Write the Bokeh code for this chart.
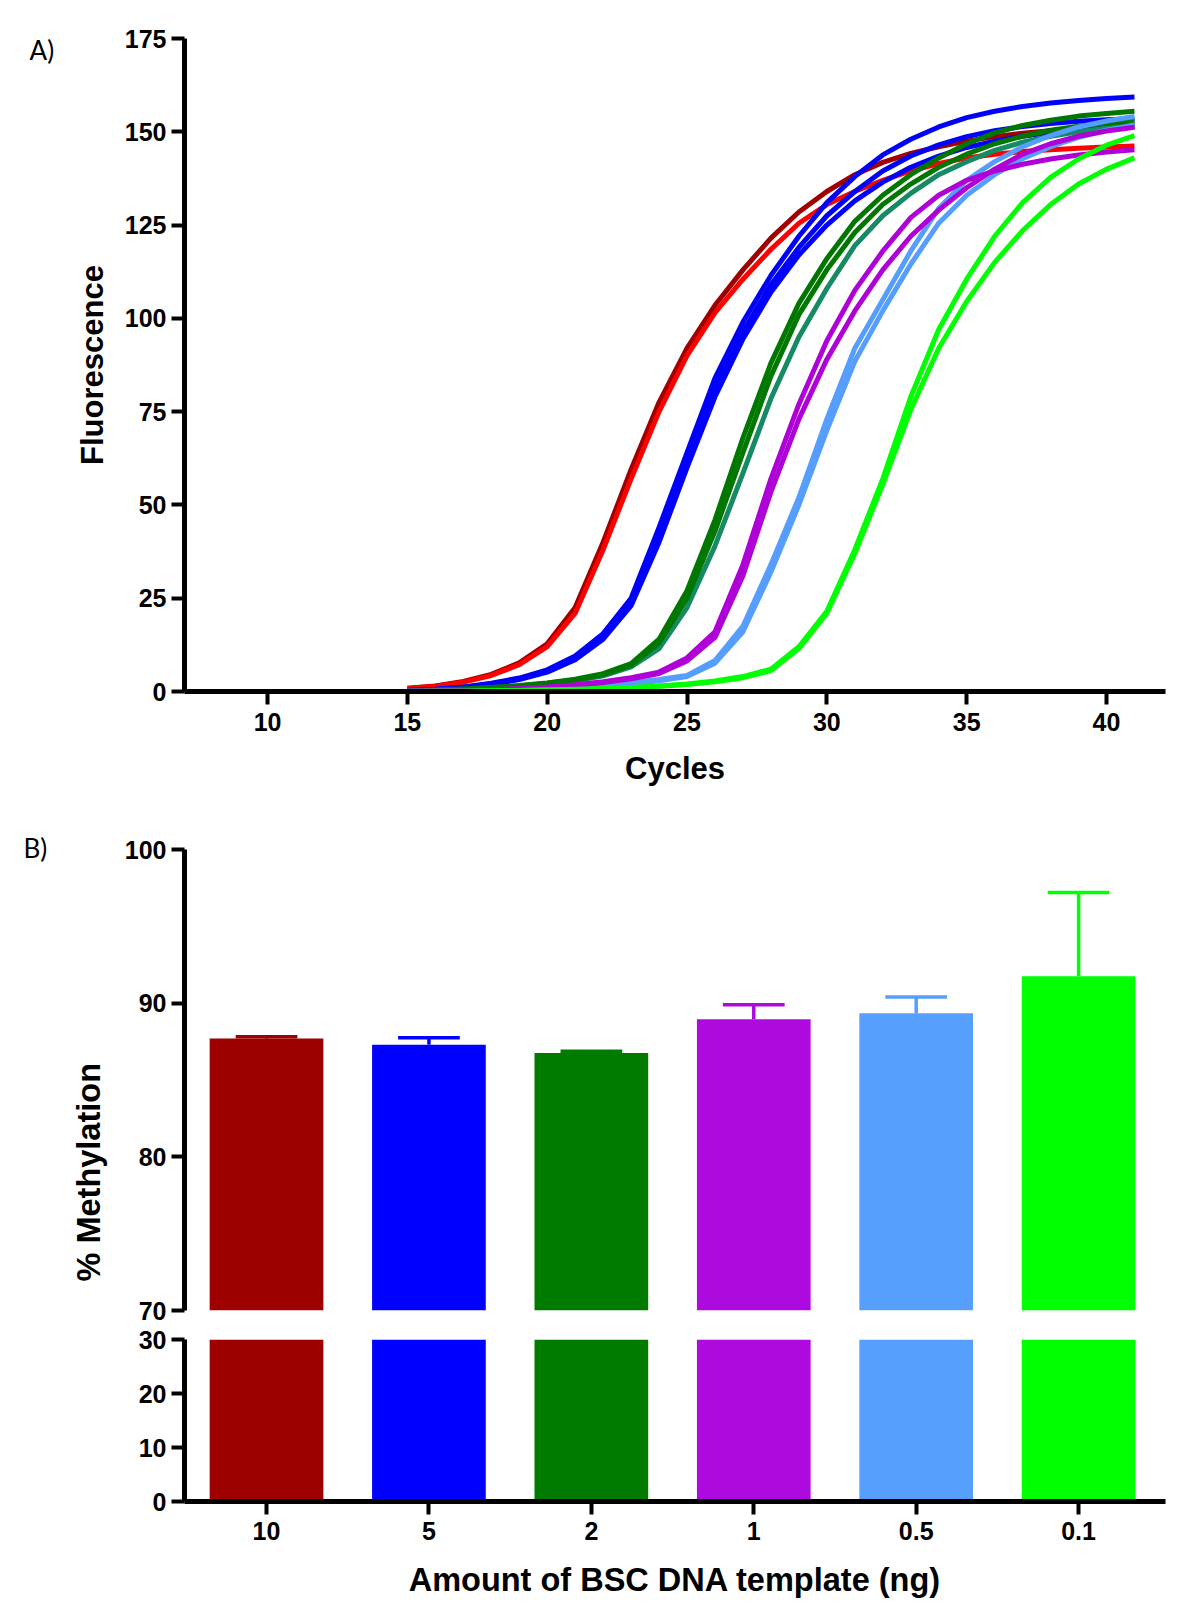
import math
from bokeh.plotting import figure
from bokeh.layouts import column
from bokeh.models import Range1d, FixedTicker, Label, Title
from bokeh.embed import file_html
from bokeh.resources import INLINE

# ---------------- Panel A data: qPCR amplification curves ----------------
cycles = list(range(15, 42))
cycle_ticks = [10, 15, 20, 25, 30, 35, 40]
fluor_ticks = [0, 25, 50, 75, 100, 125, 150, 175]

red_dark = [0.9, 1.5, 2.7, 4.6, 7.7, 12.8, 22.5, 40.0, 59.5, 77.5, 92.0, 103.5, 113.0, 121.5,
            128.5, 134.0, 138.5, 141.8, 144.2, 146.0, 147.5, 148.7, 149.6, 150.3, 150.9, 151.4, 151.8]
red_bright = [0.8, 1.4, 2.5, 4.3, 7.2, 12.0, 21.0, 38.0, 57.0, 75.0, 90.0, 101.5, 110.5, 118.5,
              125.5, 130.5, 134.0, 137.0, 139.5, 141.5, 143.0, 144.0, 144.7, 145.2, 145.6, 145.9, 146.2]
blue_1 = [0.3, 0.6, 1.2, 2.2, 3.6, 5.8, 9.5, 15.5, 25.0, 44.0, 64.0, 84.0, 99.0, 111.5,
          122.0, 131.0, 138.0, 143.8, 148.0, 151.3, 153.8, 155.5, 156.8, 157.7, 158.4, 158.9, 159.3]
blue_2 = [0.3, 0.6, 1.1, 2.0, 3.4, 5.5, 9.0, 15.0, 24.0, 42.0, 62.0, 81.5, 96.5, 109.0,
          119.0, 127.5, 134.0, 139.5, 143.5, 146.5, 148.7, 150.3, 151.4, 152.2, 152.8, 153.2, 153.5]
blue_3 = [0.2, 0.5, 1.0, 1.9, 3.2, 5.2, 8.5, 14.0, 23.0, 40.0, 60.0, 79.0, 94.5, 107.0,
          117.0, 125.0, 131.5, 136.5, 140.5, 143.5, 145.8, 147.5, 148.8, 149.8, 150.5, 151.1, 151.5]
green_1 = [0.2, 0.4, 0.7, 1.1, 1.6, 2.3, 3.3, 4.8, 7.5, 14.0, 27.0, 46.0, 68.0, 88.0,
           104.0, 116.0, 126.0, 133.0, 138.5, 143.0, 146.8, 149.7, 151.7, 153.1, 154.2, 154.9, 155.5]
green_2 = [0.2, 0.4, 0.6, 1.0, 1.5, 2.2, 3.1, 4.5, 7.0, 13.0, 25.0, 43.0, 64.0, 84.5,
           101.0, 113.0, 123.0, 130.5, 136.0, 140.5, 144.0, 146.8, 148.8, 150.4, 151.5, 152.3, 152.9]
teal_1 = [0.2, 0.3, 0.5, 0.9, 1.4, 2.0, 2.9, 4.2, 6.6, 11.5, 22.5, 39.0, 58.5, 78.5,
          95.0, 108.0, 119.5, 127.5, 133.5, 138.5, 142.0, 145.0, 147.2, 148.8, 150.0, 151.0, 151.6]
purple_1 = [0.1, 0.2, 0.3, 0.5, 0.8, 1.2, 1.8, 2.6, 3.7, 5.2, 9.0, 16.0, 34.0, 57.0,
            77.0, 94.0, 107.5, 118.0, 127.0, 133.0, 137.0, 139.5, 141.3, 142.7, 143.8, 144.6, 145.2]
purple_2 = [0.1, 0.2, 0.3, 0.5, 0.7, 1.1, 1.6, 2.4, 3.4, 4.8, 8.2, 14.5, 31.0, 53.5,
            73.0, 89.0, 102.0, 113.0, 122.0, 129.0, 135.0, 140.0, 144.0, 146.8, 148.8, 150.2, 151.2]
lightblue_1 = [0.1, 0.1, 0.2, 0.3, 0.5, 0.8, 1.2, 1.7, 2.4, 3.2, 4.3, 8.3, 17.5, 34.0,
               52.0, 73.0, 92.0, 105.0, 118.0, 129.5, 137.0, 142.0, 146.0, 149.0, 151.3, 152.9, 154.1]
lightblue_2 = [0.1, 0.1, 0.2, 0.3, 0.4, 0.7, 1.0, 1.5, 2.1, 2.9, 4.0, 7.6, 16.0, 32.0,
               50.0, 70.0, 88.5, 102.0, 114.5, 125.5, 133.0, 138.5, 142.8, 146.0, 148.5, 150.4, 151.8]
lime_1 = [0.0, 0.1, 0.1, 0.2, 0.3, 0.4, 0.6, 0.8, 1.1, 1.5, 2.0, 2.8, 4.0, 6.0,
          12.0, 21.5, 38.0, 57.0, 79.0, 97.0, 110.5, 122.0, 131.0, 137.8, 142.7, 146.4, 149.0]
lime_2 = [0.0, 0.1, 0.1, 0.2, 0.3, 0.4, 0.5, 0.7, 1.0, 1.4, 1.9, 2.6, 3.7, 5.6,
          11.5, 21.0, 37.0, 55.5, 75.5, 92.0, 104.5, 115.0, 123.5, 130.5, 136.0, 140.0, 143.0]

# ---------------- Panel B data: % methylation bars ----------------
amounts = ["10", "5", "2", "1", "0.5", "0.1"]
methylation = [87.7, 87.3, 86.75, 88.95, 89.35, 91.75]
sem = [0.12, 0.45, 0.12, 0.95, 1.05, 5.45]
upper_ticks = [70, 80, 90, 100]
lower_ticks = [0, 10, 20, 30]

# ---------------- styles ----------------
FONT = "Liberation Sans"
bar_colors = ["#9e0000", "#0000ff", "#007b00", "#ad0ae0", "#569ffc", "#00ff00"]
curve_styles = [
    (red_dark, "#a00000"), (red_bright, "#ff0000"),
    (blue_3, "#0000ff"), (blue_2, "#0000ff"), (blue_1, "#0000ff"),
    (teal_1, "#168a64"), (green_2, "#007800"), (green_1, "#007800"),
    (lightblue_2, "#559eff"), (lightblue_1, "#559eff"),
    (purple_2, "#b000d8"), (purple_1, "#b000d8"),
    (lime_2, "#00ff00"), (lime_1, "#00ff00"),
]


def style(p, title_size="31px"):
    for ax in p.axis:
        ax.axis_line_width = 5
        ax.axis_line_color = "black"
        ax.major_tick_line_width = 4
        ax.major_tick_line_color = "black"
        ax.major_tick_out = 13
        ax.major_tick_in = 0
        ax.minor_tick_line_color = None
        ax.major_label_text_font = FONT
        ax.major_label_text_font_style = "bold"
        ax.major_label_text_font_size = "25px"
        ax.major_label_text_color = "black"
        ax.axis_label_text_font = FONT
        ax.axis_label_text_font_style = "bold"
        ax.axis_label_text_font_size = title_size
        ax.axis_label_text_color = "black"
    p.grid.grid_line_color = None
    p.outline_line_color = None
    p.background_fill_color = "white"
    p.border_fill_color = "white"


# ---------------- Panel A ----------------
pa = figure(width=1192, height=800, x_range=Range1d(7.03, 42.11), y_range=Range1d(0, 175),
            output_backend="svg", toolbar_location=None,
            min_border_left=184, min_border_right=27, min_border_top=38, min_border_bottom=109)
style(pa)
pa.xaxis.ticker = FixedTicker(ticks=cycle_ticks)
pa.yaxis.ticker = FixedTicker(ticks=fluor_ticks)
pa.xaxis.axis_label = "Cycles"
pa.yaxis.axis_label = "Fluorescence"
pa.xaxis.major_label_standoff = 8
pa.yaxis.major_label_standoff = 5
pa.xaxis.axis_label_standoff = 17
pa.yaxis.axis_label_standoff = 12
for vals, col in curve_styles:
    pa.line(cycles, vals, line_color=col, line_width=5, line_join="round")
pa.add_layout(Label(x=1.49, y=171.8, text="A)", text_font="Lato", text_font_size="26px",
                    text_align="left", text_baseline="middle", text_color="black"), "above")

# ---------------- Panel B ----------------
xs = list(range(len(amounts)))
tops = [m + e for m, e in zip(methylation, sem)]
cap = 0.19

pb1 = figure(width=1192, height=524, x_range=Range1d(-0.505, 5.535), y_range=Range1d(70, 100),
             output_backend="svg", toolbar_location=None, x_axis_location=None,
             min_border_left=184, min_border_right=27, min_border_top=49, min_border_bottom=14)
style(pb1)
pb1.yaxis.ticker = FixedTicker(ticks=upper_ticks)
pb1.yaxis.major_label_standoff = 5
pb1.vbar(x=xs, top=methylation, bottom=0, width=0.7, fill_color=bar_colors, line_color=None)
pb1.segment(x0=xs, y0=methylation, x1=xs, y1=tops, line_color=bar_colors, line_width=3.5)
pb1.segment(x0=[x - cap for x in xs], y0=tops, x1=[x + cap for x in xs], y1=tops,
            line_color=bar_colors, line_width=3.5)
pb1.add_layout(Title(text="% Methylation", align="left", offset=29, standoff=30,
                     text_font=FONT, text_font_style="bold", text_font_size="32.5px",
                     text_color="black"), "left")
pb1.add_layout(Label(x=-1.496, y=100.1, text="B)", text_font="Lato", text_font_size="26px",
                     text_align="left", text_baseline="middle", text_color="black"), "above")

pb2 = figure(width=1192, height=292, x_range=pb1.x_range, y_range=Range1d(0, 30),
             output_backend="svg", toolbar_location=None,
             min_border_left=184, min_border_right=27, min_border_top=15, min_border_bottom=115)
style(pb2, title_size="32.5px")
pb2.yaxis.ticker = FixedTicker(ticks=lower_ticks)
pb2.xaxis.ticker = FixedTicker(ticks=xs)
pb2.xaxis.major_label_overrides = {x: a for x, a in zip(xs, amounts)}
pb2.xaxis.axis_label = "Amount of BSC DNA template (ng)"
pb2.xaxis.major_label_standoff = 7
pb2.yaxis.major_label_standoff = 5
pb2.xaxis.axis_label_standoff = 19
pb2.vbar(x=xs, top=methylation, bottom=0, width=0.7, fill_color=bar_colors, line_color=None)

layout = column(pa, pb1, pb2, spacing=0)
open("out.html", "w").write(file_html(layout, INLINE))
